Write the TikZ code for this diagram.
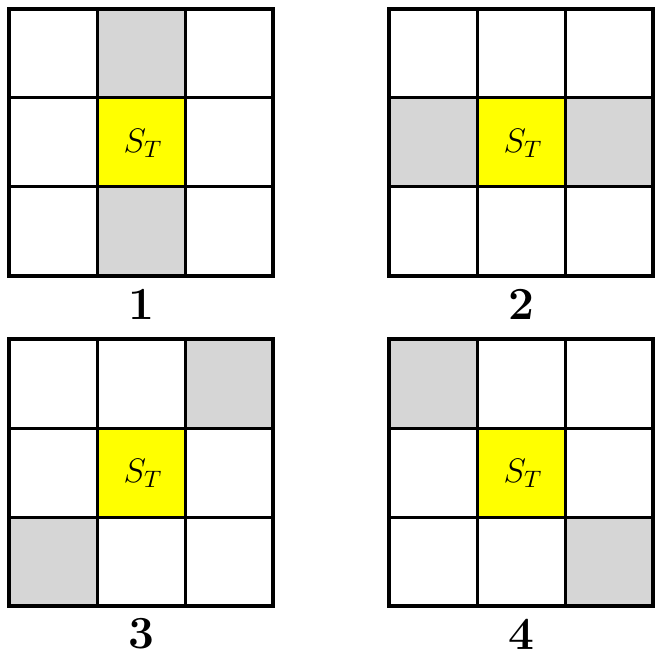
\documentclass[tikz,border=0pt]{standalone}
\usepackage{fix-cm}
\usepackage{tikz}
\usetikzlibrary{positioning, calc}

\definecolor{cellgray}{HTML}{D6D6D6}
\definecolor{cellyellow}{HTML}{FFFF00}

\begin{document}
\begin{tikzpicture}[x=0.5pt, y=-0.5pt]
\tikzset{graycell/.style={fill=cellgray, draw=none},
  targetcell/.style={fill=cellyellow, draw=none},
  innerline/.style={line width=1.5pt},
  outerline/.style={line width=2.4pt, line join=miter},
  targetlbl/.style={font=\fontsize{17}{19}\selectfont, inner sep=0pt},
  gridlbl/.style={font=\fontsize{23}{26}\selectfont\bfseries, inner sep=0pt}}
\useasboundingbox (0,0) rectangle (656,656);
% one 3x3 neighbourhood per pattern: origin, two gray cells, label
\foreach \ox/\oy/\ac/\ar/\bc/\br/\lbl in {9/9/1/0/1/2/1, 389/9/0/1/2/1/2, 9/339/2/0/0/2/3, 389/339/0/0/2/2/4}{
  \fill[graycell] (\ox+\ac*88,\oy+\ar*89) rectangle ++(88,89);
  \fill[graycell] (\ox+\bc*88,\oy+\br*89) rectangle ++(88,89);
  \fill[targetcell] (\ox+88,\oy+89) rectangle ++(88,89);
  \draw[innerline] (\ox+88,\oy) -- ++(0,267) (\ox+176,\oy) -- ++(0,267)
    (\ox,\oy+89) -- ++(264,0) (\ox,\oy+178) -- ++(264,0);
  \draw[outerline] (\ox,\oy) rectangle ++(264,267);
  \node[targetlbl] (st\lbl) at (\ox+134,\oy+134) {$S_T$};
  \node[gridlbl] (num\lbl) at (\ox+132,\oy+295) {\lbl};
}
\end{tikzpicture}
\end{document}
